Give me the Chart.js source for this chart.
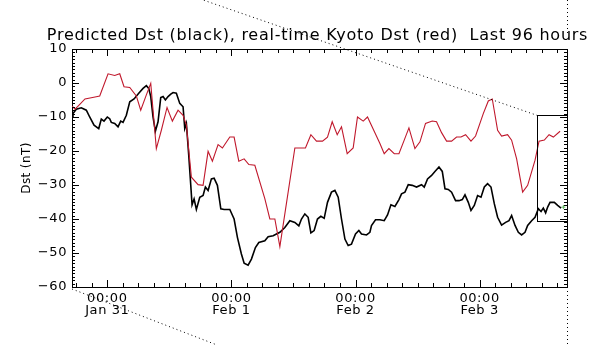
<!DOCTYPE html>
<html>
<head>
<meta charset="utf-8">
<script src="https://cdn.jsdelivr.net/npm/chart.js@4.4.0/dist/chart.umd.min.js"></script>
<style>
  html, body { margin: 0; padding: 0; background: #fff; }
  #wrap { width: 599px; height: 345px; }
</style>
</head>
<body>
<div id="wrap"><canvas id="dst" width="599" height="345"></canvas></div>
<script>
// hours since Jan 31 00:00
const xMin = -6.83;
const xMax = 88.9;
const dayHours = [0, 24, 48, 72];
const dayLabels = ['Jan 31', 'Feb 1', 'Feb 2', 'Feb 3'];

// real-time Kyoto Dst (red)
const kyotoHours = [-6.8, -6.25, -5.28, -4.32, -3.35, -2.38, -1.47, 0.14, 1.43, 2.40, 3.23, 4.34, 5.61, 6.46,
  7.55, 8.40, 9.48, 10.45, 11.55, 12.58, 13.68, 14.65, 15.29, 16.26, 17.55, 18.52, 19.49, 20.32, 21.42,
  22.26, 23.69, 24.52, 25.43, 26.46, 27.37, 28.53, 30.46, 31.43, 32.40, 33.37, 36.27, 38.32, 39.37,
  40.45, 41.61, 42.58, 43.49, 44.46, 45.29, 46.39, 47.55, 48.38, 49.49, 50.32, 51.75, 52.72, 53.55,
  54.46, 55.49, 56.40, 57.42, 58.33, 59.49, 60.46, 61.54, 62.84, 63.67, 64.64, 65.61, 66.58, 67.54,
  68.40, 69.29, 70.33, 71.22, 72.71, 73.68, 74.45, 75.48, 76.25, 77.41, 78.19, 79.16, 80.32, 81.29,
  82.72, 83.49, 84.52, 85.43, 86.26, 87.56];
const kyotoDst = [-6.8, -7.7, -6.2, -4.7, -4.4, -4.1, -3.8, 2.7, 2.2, 2.7, -1.1, -1.3, -3.8, -8,
  -3.5, -0.1, -19.3, -13.9, -7.2, -11.2, -8, -9.5, -12.4, -27.7, -29.9, -30.1, -20.1, -23, -18.1,
  -19.1, -15.9, -15.9, -23, -22.3, -24, -24.2, -34, -40, -40, -48.1, -19.1, -19.1, -15.2,
  -17.1, -17.1, -15.9, -11.4, -15.2, -12.9, -20.8, -19.1, -10, -11.2, -10, -14.6, -17.8, -20.8,
  -19.3, -20.8, -20.8, -16.8, -13.2, -19.3, -17.3, -11.9, -11.2, -11.4, -14.6, -17.1, -17.1, -15.9,
  -15.9, -15.2, -17.1, -15.6, -9, -5.3, -4.7, -13.9, -15.6, -15.2, -16.8, -22.3, -32.1, -30.1,
  -22.7, -17.1, -16.8, -15.2, -15.9, -14.2];

// predicted Dst (black)
const predHours = [-6.8, -6.64, -6.00, -5.03, -4.06, -3.41, -2.57, -1.66, -1.16, -0.64, 0.00, 0.46, 0.77,
  1.43, 2.07, 2.59, 3.04, 3.68, 4.34, 5.17, 6.08, 6.91, 7.55, 8.01, 8.40, 8.84, 9.29, 9.81, 10.33,
  10.78, 11.23, 11.75, 12.27, 12.72, 13.35, 14.01, 14.65, 14.98, 15.29, 15.75, 16.14, 16.39, 16.78,
  17.22, 17.88, 18.52, 18.97, 19.49, 20.13, 20.65, 21.29, 21.95, 22.59, 23.69, 24.52, 25.16, 25.93,
  26.46, 27.23, 27.87, 28.64, 29.30, 30.46, 31.10, 32.07, 32.71, 33.37, 34.33, 35.30, 36.27, 37.04,
  37.55, 38.20, 38.84, 39.37, 40.00, 40.64, 41.30, 41.94, 42.58, 43.35, 44.01, 44.65, 45.29, 45.95,
  46.58, 47.22, 48.00, 48.65, 49.16, 50.13, 50.78, 51.09, 51.87, 52.72, 53.55, 54.19, 54.85, 55.62,
  56.40, 56.90, 57.56, 58.20, 58.97, 59.80, 60.77, 61.29, 61.93, 62.71, 63.36, 64.14, 64.78, 65.30,
  65.94, 66.58, 67.35, 68.01, 68.65, 69.17, 69.81, 70.33, 70.97, 71.61, 72.27, 72.91, 73.54, 74.20,
  74.84, 75.48, 76.25, 77.03, 77.68, 78.19, 78.85, 79.49, 80.12, 80.78, 81.29, 82.06, 82.72, 83.36,
  83.88, 84.32, 84.77, 85.16, 85.62, 86.45, 87.09, 87.75];
const predDst = [-10, -9, -7.7, -7.3, -8, -10, -12.4, -13.4, -10.6, -11.2, -10, -10.5, -11.6,
  -11.9, -12.9, -11.2, -11.6, -9.5, -5.5, -4.7, -3, -1.6, -0.8, -1.6, -4, -10, -14.2, -11.4, -4.3,
  -4, -5, -4, -3.3, -2.8, -3, -6, -7, -13.4, -11.9, -21.3, -30.1, -35.8, -34.1,
  -37.2, -33.6, -33.1, -30.6, -31.6, -28.2, -28, -30.1, -37, -37.2, -37.2, -40, -45.4, -50.3,
  -53, -53.6, -51.8, -48.4, -46.9, -46.4, -45.2, -44.9, -44.4, -43.9, -42.5, -40.5, -41, -42,
  -40, -38.5, -39.5, -44.1, -43.4, -40, -39.2, -39.8, -35.1, -32.1, -31.6, -33.6, -40, -45.9,
  -47.8, -47.4, -44.4, -43.4, -44.4, -44.7, -43.9, -41.9, -40.2, -40.2, -40.5, -38.8, -35.8, -36.3,
  -34.3, -32.6, -32.1, -29.9, -30.1, -30.6, -29.9, -30.6, -28.2, -27.2, -26, -24.7, -26, -31.1,
  -31.3, -32.1, -34.6, -34.6, -34.3, -32.9, -35.1, -37.5, -36, -33.1, -33.6, -30.6, -29.6, -30.6,
  -35.5, -39.5, -41.8, -41, -40.5, -39, -41.9, -43.9, -44.7, -43.9, -41.9, -40.5, -39.5, -37,
  -37.8, -36.8, -38.2, -36.5, -35.1, -35.1, -36, -36.8];

// latest prediction marker (green) and the forecast window box
const nowHour = [88.2];
const nowDst = [-36.5];
const boxHours = [83.1, xMax];
const boxDst = [-9.45, -40.5];

const yMin = -60, yMax = 10;
const titleText = 'Predicted Dst (black), real-time Kyoto Dst (red)  Last 96 hours';
const FONT = 'DejaVu Sans';

const pts = (xs, ys) => xs.map((x, i) => ({ x: x, y: ys[i] }));
const minus = v => (v < 0 ? '\u2212' + Math.abs(v) : String(v));

// wide, spaced-out lettering like the old IDL plot font
const spacing = {
  id: 'spacing',
  beforeDraw(chart) { chart.ctx.letterSpacing = '0.6px'; }
};

// inward IDL-style ticks, box, titles and the dotted lines
const decor = {
  id: 'decor',
  afterDraw(chart) {
    const c = chart.ctx, a = chart.chartArea;
    const xs = chart.scales.x, ys = chart.scales.y;
    c.save();
    c.strokeStyle = '#000';
    c.lineWidth = 1;
    c.beginPath();
    for (let v = yMin; v <= yMax; v++) {
      const py = Math.round(ys.getPixelForValue(v)) + 0.5;
      const len = v % 10 === 0 ? 7 : 3;
      c.moveTo(a.left, py); c.lineTo(a.left + len, py);
      c.moveTo(a.right, py); c.lineTo(a.right - len, py);
    }
    for (let h = Math.ceil(xMin / 3) * 3; h <= xMax; h += 3) {
      const px = Math.round(xs.getPixelForValue(h)) + 0.5;
      const len = h % 24 === 0 ? 7 : 4;
      c.moveTo(px, a.bottom); c.lineTo(px, a.bottom - len);
      c.moveTo(px, a.top); c.lineTo(px, a.top + len);
    }
    c.stroke();

    // forecast window
    const bl = Math.round(xs.getPixelForValue(boxHours[0])) + 0.5;
    const br = Math.round(xs.getPixelForValue(boxHours[1])) + 0.5;
    const bt = Math.round(ys.getPixelForValue(boxDst[0])) + 0.5;
    const bb = Math.round(ys.getPixelForValue(boxDst[1])) + 0.5;
    c.strokeRect(bl, bt, br - bl, bb - bt);

    // dotted guide lines
    c.setLineDash([1, 3]);
    c.beginPath();
    c.moveTo(bl, bt); c.lineTo(203, 0);
    c.moveTo(a.left, a.bottom + 2); c.lineTo(217, 345);
    c.moveTo(a.right + 0.5, a.bottom + 4); c.lineTo(a.right + 0.5, 345);
    c.moveTo(a.right + 0.5, 0); c.lineTo(a.right + 0.5, 33);
    c.stroke();
    c.setLineDash([]);

    c.fillStyle = '#000';
    c.letterSpacing = '0.75px';
    c.font = '16px "' + FONT + '"';
    c.textAlign = 'center';
    c.textBaseline = 'middle';
    c.fillText(titleText, (a.left + a.right) / 2 - 2, 36);

    c.letterSpacing = '0.4px';
    c.font = '12px "' + FONT + '"';
    c.translate(27, (a.top + a.bottom) / 2);
    c.rotate(-Math.PI / 2);
    c.fillText('Dst (nT)', 0, 0);
    c.restore();
  }
};

const axisBorder = { display: true, color: '#000', width: 1 };
const noGrid = { display: false, drawTicks: false };

new Chart(document.getElementById('dst'), {
  type: 'line',
  data: {
    datasets: [
      { label: 'Kyoto', data: pts(kyotoHours, kyotoDst), borderColor: '#c0182c', borderWidth: 1.1,
        pointRadius: 0, tension: 0, xAxisID: 'x', yAxisID: 'y' },
      { label: 'Predicted', data: pts(predHours, predDst), borderColor: '#000', borderWidth: 1.6,
        pointRadius: 0, tension: 0, xAxisID: 'x', yAxisID: 'y' },
      { label: 'Now', data: pts(nowHour, nowDst), showLine: false, pointStyle: 'cross',
        pointRadius: 2, borderColor: '#5cb85c', borderWidth: 1, xAxisID: 'x', yAxisID: 'y' }
    ]
  },
  options: {
    responsive: false,
    animation: false,
    events: [],
    layout: { padding: { top: 49, right: 32, bottom: 0, left: 0 } },
    plugins: { legend: { display: false }, tooltip: { enabled: false } },
    scales: {
      x: {
        type: 'linear', position: 'bottom', min: xMin, max: xMax,
        grid: noGrid, border: axisBorder,
        afterFit(s) { s.height = 58; },
        afterBuildTicks(s) { s.ticks = dayHours.map(v => ({ value: v })); },
        ticks: {
          autoSkip: false, maxRotation: 0, padding: 5, color: '#000',
          font: { family: FONT, size: 13, lineHeight: 0.95 },
          callback: v => ['00:00', dayLabels[dayHours.indexOf(v)]]
        }
      },
      x2: {
        type: 'linear', position: 'top', min: xMin, max: xMax,
        grid: noGrid, border: axisBorder, ticks: { display: false },
        afterFit(s) { s.height = 0; }
      },
      y: {
        position: 'left', min: yMin, max: yMax,
        grid: noGrid, border: axisBorder,
        afterFit(s) { s.width = 72; },
        ticks: { stepSize: 10, padding: 5, color: '#000', font: { family: FONT, size: 13 }, callback: minus }
      },
      y2: {
        position: 'right', min: yMin, max: yMax,
        grid: noGrid, border: axisBorder, ticks: { display: false },
        afterFit(s) { s.width = 0; }
      }
    }
  },
  plugins: [spacing, decor]
});
</script>
</body>
</html>
